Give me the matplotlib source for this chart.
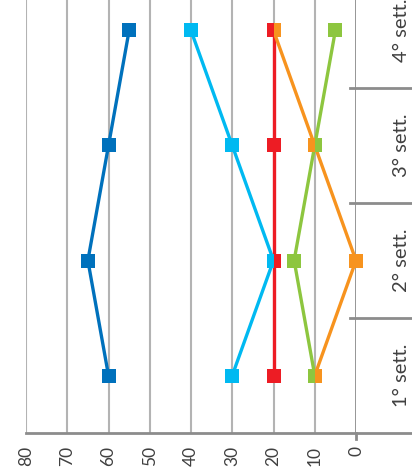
import matplotlib
matplotlib.use("Agg")
import matplotlib.pyplot as plt
import matplotlib.transforms as mtrans

# ---- data ----
categories = ["1° sett.", "2° sett.", "3° sett.", "4° sett."]
value_ticks = [80, 70, 60, 50, 40, 30, 20, 10, 0]
dark_blue = [60, 65, 60, 55]
light_blue = [30, 20, 30, 40]
red = [20, 20, 20, 20]
orange = [10, 0, 10, 20]
green = [10, 15, 10, 5]

series = [
    ("dark_blue", dark_blue, "#0071bc"),
    ("light_blue", light_blue, "#00b9f1"),
    ("red", red, "#ed1c24"),
    ("green", green, "#8dc63f"),
    ("orange", orange, "#f7931e"),
]
colors = {n: c for n, _, c in series}
values = {n: v for n, v, _ in series}
# overlapping markers shown split in halves: (category index, left series, right series)
overlaps = [(0, "green", "orange"), (1, "light_blue", "red"),
            (2, "orange", "green"), (3, "red", "orange")]

plt.rcParams['font.family'] = ['Lato', 'DejaVu Sans']
fig = plt.figure(figsize=(4.12, 4.74), dpi=100)
ax = fig.add_axes([26/412, 41/474, 330/412, 460/474])

ypos = list(range(len(categories)))
for name, vals, col in series:
    ax.plot(vals, ypos, color=col, lw=2.4, marker='s', ms=10,
            mew=0, clip_on=False, zorder=3)

for i, ln, rn in overlaps:
    ax.plot([values[ln][i]], [i], marker='s', ms=10, mew=0, ls='none',
            color=colors[ln], fillstyle='left', markerfacecoloralt='none',
            clip_on=False, zorder=4)
    ax.plot([values[rn][i]], [i], marker='s', ms=10, mew=0, ls='none',
            color=colors[rn], fillstyle='right', markerfacecoloralt='none',
            clip_on=False, zorder=4)

ax.set_xlim(80, 0)
ax.set_ylim(-0.5, len(categories) - 0.5)
ax.set_xticks(value_ticks)
ax.set_xticklabels([str(v) for v in value_ticks], rotation=90, fontsize=12.5,
                   color="#404040")
ax.tick_params(axis='x', length=0, pad=9)
ax.set_yticks([])
for s in ax.spines.values():
    s.set_visible(False)

# grid lines
for v in value_ticks[:-1]:
    ax.axvline(v, color="#b3b3b3", lw=1.5, zorder=1)
# value axis at 0
ax.axvline(0, color="#8c8c8c", lw=2, zorder=2)
ax.plot([0, 0], [-0.5, -0.55], color="#8c8c8c", lw=2, clip_on=False)

# category axis (bottom) and separators, extended to the right
blend = mtrans.blended_transform_factory(ax.transAxes, ax.transData)
ax.plot([0, 386/330], [-0.5, -0.5], transform=blend, color="#8c8c8c",
        lw=2, clip_on=False, zorder=2)
for k in range(1, len(categories)):
    ax.plot([324/330, 386/330], [k - 0.5, k - 0.5], transform=blend,
            color="#8c8c8c", lw=2, clip_on=False, zorder=2)

for k, lab in enumerate(categories):
    ax.text(375/330, k, lab, transform=blend, rotation=90, ha='center',
            va='center', fontsize=14.5, color="#404040")

fig.savefig("out.png", dpi=100)
